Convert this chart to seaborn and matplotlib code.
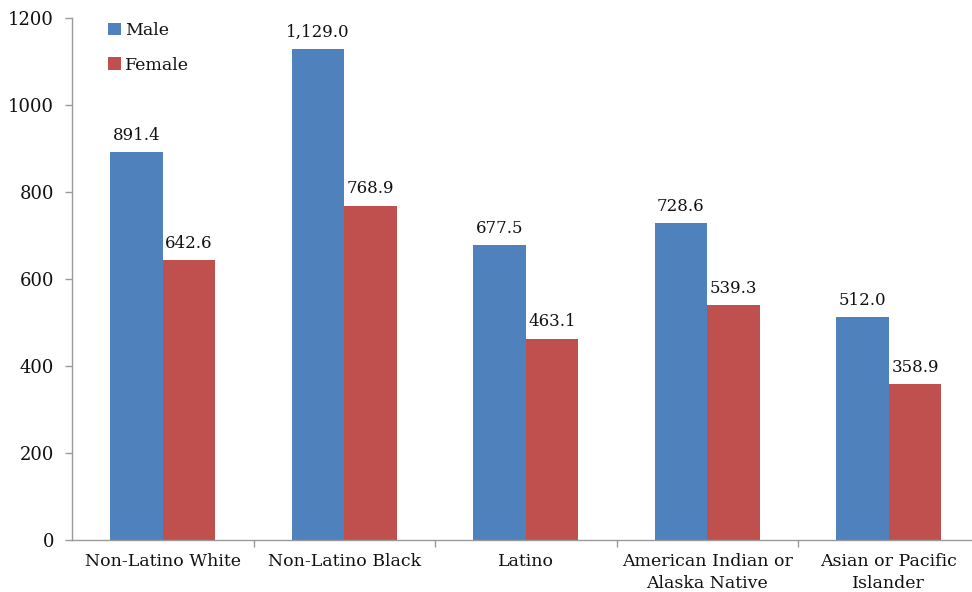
import matplotlib
matplotlib.use("Agg")
import matplotlib.pyplot as plt
import seaborn as sns
import pandas as pd

groups = ["Non-Latino White", "Non-Latino Black", "Latino",
          "American Indian or\nAlaska Native", "Asian or Pacific\nIslander"]
male = [891.4, 1129.0, 677.5, 728.6, 512.0]
female = [642.6, 768.9, 463.1, 539.3, 358.9]
y_ticks = [0, 200, 400, 600, 800, 1000, 1200]

df = pd.DataFrame({
    "group": groups * 2,
    "sex": ["Male"] * len(groups) + ["Female"] * len(groups),
    "rate": male + female,
})

sns.set_theme(style="white")
plt.rcParams["font.family"] = ["DejaVu Serif"]
plt.rcParams["text.color"] = "#111111"

fig = plt.figure(figsize=(9.72, 5.92), dpi=100)
ax = fig.add_axes([72 / 972, 52 / 592, 907.5 / 972, 522 / 592])

sns.barplot(data=df, x="group", y="rate", hue="sex", order=groups,
            hue_order=["Male", "Female"],
            palette={"Male": "#4F81BD", "Female": "#C0504D"},
            width=0.58, saturation=1, ax=ax, errorbar=None, linewidth=0)

for cont in ax.containers:
    labels = [f"{v:,.1f}" for v in cont.datavalues]
    ax.bar_label(cont, labels=labels, padding=6, fontsize=12, color="#111111")

ax.set_ylim(0, 1200)
ax.set_xlim(-0.5, len(groups) - 0.5)
ax.set_yticks(y_ticks)
ax.set_yticklabels([str(t) for t in y_ticks], fontsize=13, color="#111111")
ax.set_xlabel("")
ax.set_ylabel("")
ax.tick_params(axis="x", labelsize=12.5, length=0, pad=9, labelcolor="#111111")
ax.tick_params(axis="y", left=True, length=5, width=1, color="#999999", pad=8)
for lbl in ax.get_xticklabels():
    lbl.set_linespacing(1.45)

# minor ticks on x mark the boundaries between categories
ax.set_xticks([i + 0.5 for i in range(len(groups))], minor=True)
ax.tick_params(axis="x", which="minor", bottom=True, length=5, width=1, color="#999999")

for side in ["top", "right"]:
    ax.spines[side].set_visible(False)
for side in ["left", "bottom"]:
    ax.spines[side].set_color("#999999")
    ax.spines[side].set_linewidth(1)

leg = ax.legend(loc="upper left", bbox_to_anchor=(0.022, 1.022), frameon=False,
                fontsize=12.5, handlelength=0.75, handleheight=0.75,
                handletextpad=0.25, labelspacing=1.0)
for t in leg.get_texts():
    t.set_color("#111111")

fig.savefig("out.png", dpi=100)
